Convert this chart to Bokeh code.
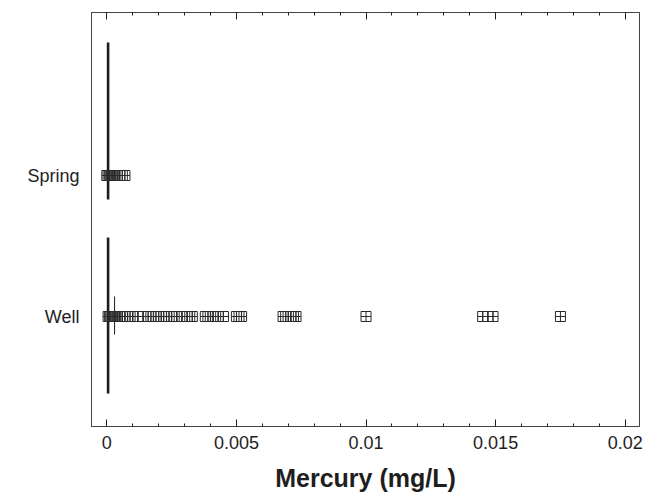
from bokeh.plotting import figure
from bokeh.models import FixedTicker, LinearAxis, Range1d
from bokeh.embed import file_html
from bokeh.resources import INLINE

# Mercury concentrations (mg/L) by water source
groups = ["Well", "Spring"]
group_pos = [0, 1]

well_hg = [0.00005, 0.0001, 0.00015, 0.0002, 0.00025, 0.0003, 0.00035, 0.0004,
           0.0005, 0.0006, 0.0007, 0.0008, 0.0009, 0.001, 0.0012, 0.0014,
           0.0016, 0.0017, 0.0019, 0.002, 0.0022, 0.0023, 0.0025, 0.0026,
           0.0027, 0.0029, 0.0031, 0.0032, 0.0033, 0.0038, 0.0039, 0.0041,
           0.0042, 0.0043, 0.0045, 0.005, 0.0051, 0.0052, 0.0068, 0.0069,
           0.0071, 0.0072, 0.0073, 0.0100, 0.0145, 0.0147, 0.0149, 0.0175]
spring_hg = [0.0, 0.00005, 0.0001, 0.00015, 0.0002, 0.00025, 0.0003, 0.0004,
             0.0005, 0.0006, 0.0007]

# summary bars per group: x location, lower and upper extent (group units)
spread_x = [0.00005, 0.00005]
spread_lo = [-0.546, 0.830]
spread_hi = [0.560, 1.943]
iqr_x = [0.0003]
iqr_lo = [-0.128]
iqr_hi = [0.142]

x_ticks = [0, 0.005, 0.01, 0.015, 0.02]
x_tick_labels = ["0", "0.005", "0.01", "0.015", "0.02"]
x_minor = [0.001, 0.002, 0.003, 0.004, 0.006, 0.007, 0.008, 0.009,
           0.011, 0.012, 0.013, 0.014, 0.016, 0.017, 0.018, 0.019]

FONT = "Liberation Sans"
INK = "#1e1e1e"

p = figure(width=653, height=503, output_backend="svg", toolbar_location=None,
           x_range=Range1d(-0.00059, 0.02055), y_range=Range1d(-0.78, 2.156),
           min_border_left=91, min_border_right=14, min_border_top=12,
           min_border_bottom=77, x_axis_location=None, y_axis_location=None)

p.xgrid.visible = False
p.ygrid.visible = False
p.outline_line_color = "#444444"
p.outline_line_width = 1
p.background_fill_color = "white"
p.border_fill_color = "white"

ticker = FixedTicker(ticks=x_ticks, minor_ticks=x_minor)

xb = LinearAxis(ticker=ticker, axis_label="Mercury (mg/L)")
xb.major_label_overrides = {t: s for t, s in zip(x_ticks, x_tick_labels)}
xb.major_tick_in = 7
xb.major_tick_out = 0
xb.minor_tick_in = 3
xb.minor_tick_out = 0
xb.major_tick_line_color = INK
xb.minor_tick_line_color = INK
xb.axis_line_color = "#444444"
xb.major_label_text_font = FONT
xb.major_label_text_font_size = "18px"
xb.major_label_text_color = INK
xb.major_label_standoff = 9
xb.axis_label_text_font = FONT
xb.axis_label_text_font_size = "25px"
xb.axis_label_text_font_style = "bold"
xb.axis_label_text_color = INK
xb.axis_label_standoff = 12
p.add_layout(xb, "below")

# top edge carries the same tick marks, without labels
xt = LinearAxis(ticker=ticker)
xt.major_label_overrides = {t: "" for t in x_ticks}
xt.major_label_standoff = 0
xt.major_tick_in = 7
xt.major_tick_out = 0
xt.minor_tick_in = 3
xt.minor_tick_out = 0
xt.major_tick_line_color = INK
xt.minor_tick_line_color = INK
xt.axis_line_color = "#444444"
p.add_layout(xt, "above")

yl = LinearAxis(ticker=FixedTicker(ticks=group_pos, minor_ticks=[]))
yl.major_label_overrides = {g: n for g, n in zip(group_pos, groups)}
yl.major_tick_line_color = None
yl.minor_tick_line_color = None
yl.axis_line_color = "#444444"
yl.major_label_text_font = FONT
yl.major_label_text_font_size = "18px"
yl.major_label_text_color = INK
yl.major_label_standoff = 6
p.add_layout(yl, "left")

# spread bars
p.segment(x0=spread_x, x1=spread_x, y0=spread_lo, y1=spread_hi,
          line_color=INK, line_width=2.6)
p.segment(x0=iqr_x, x1=iqr_x, y0=iqr_lo, y1=iqr_hi,
          line_color=INK, line_width=1)

# individual observations
p.scatter(x=well_hg, y=[group_pos[0]] * len(well_hg), marker="square_cross",
          size=10, fill_color=None, line_color="#2a2a2a", line_width=1)
p.scatter(x=spring_hg, y=[group_pos[1]] * len(spring_hg), marker="square_cross",
          size=10, fill_color=None, line_color="#2a2a2a", line_width=1)

open("out.html", "w").write(file_html(p, INLINE))
